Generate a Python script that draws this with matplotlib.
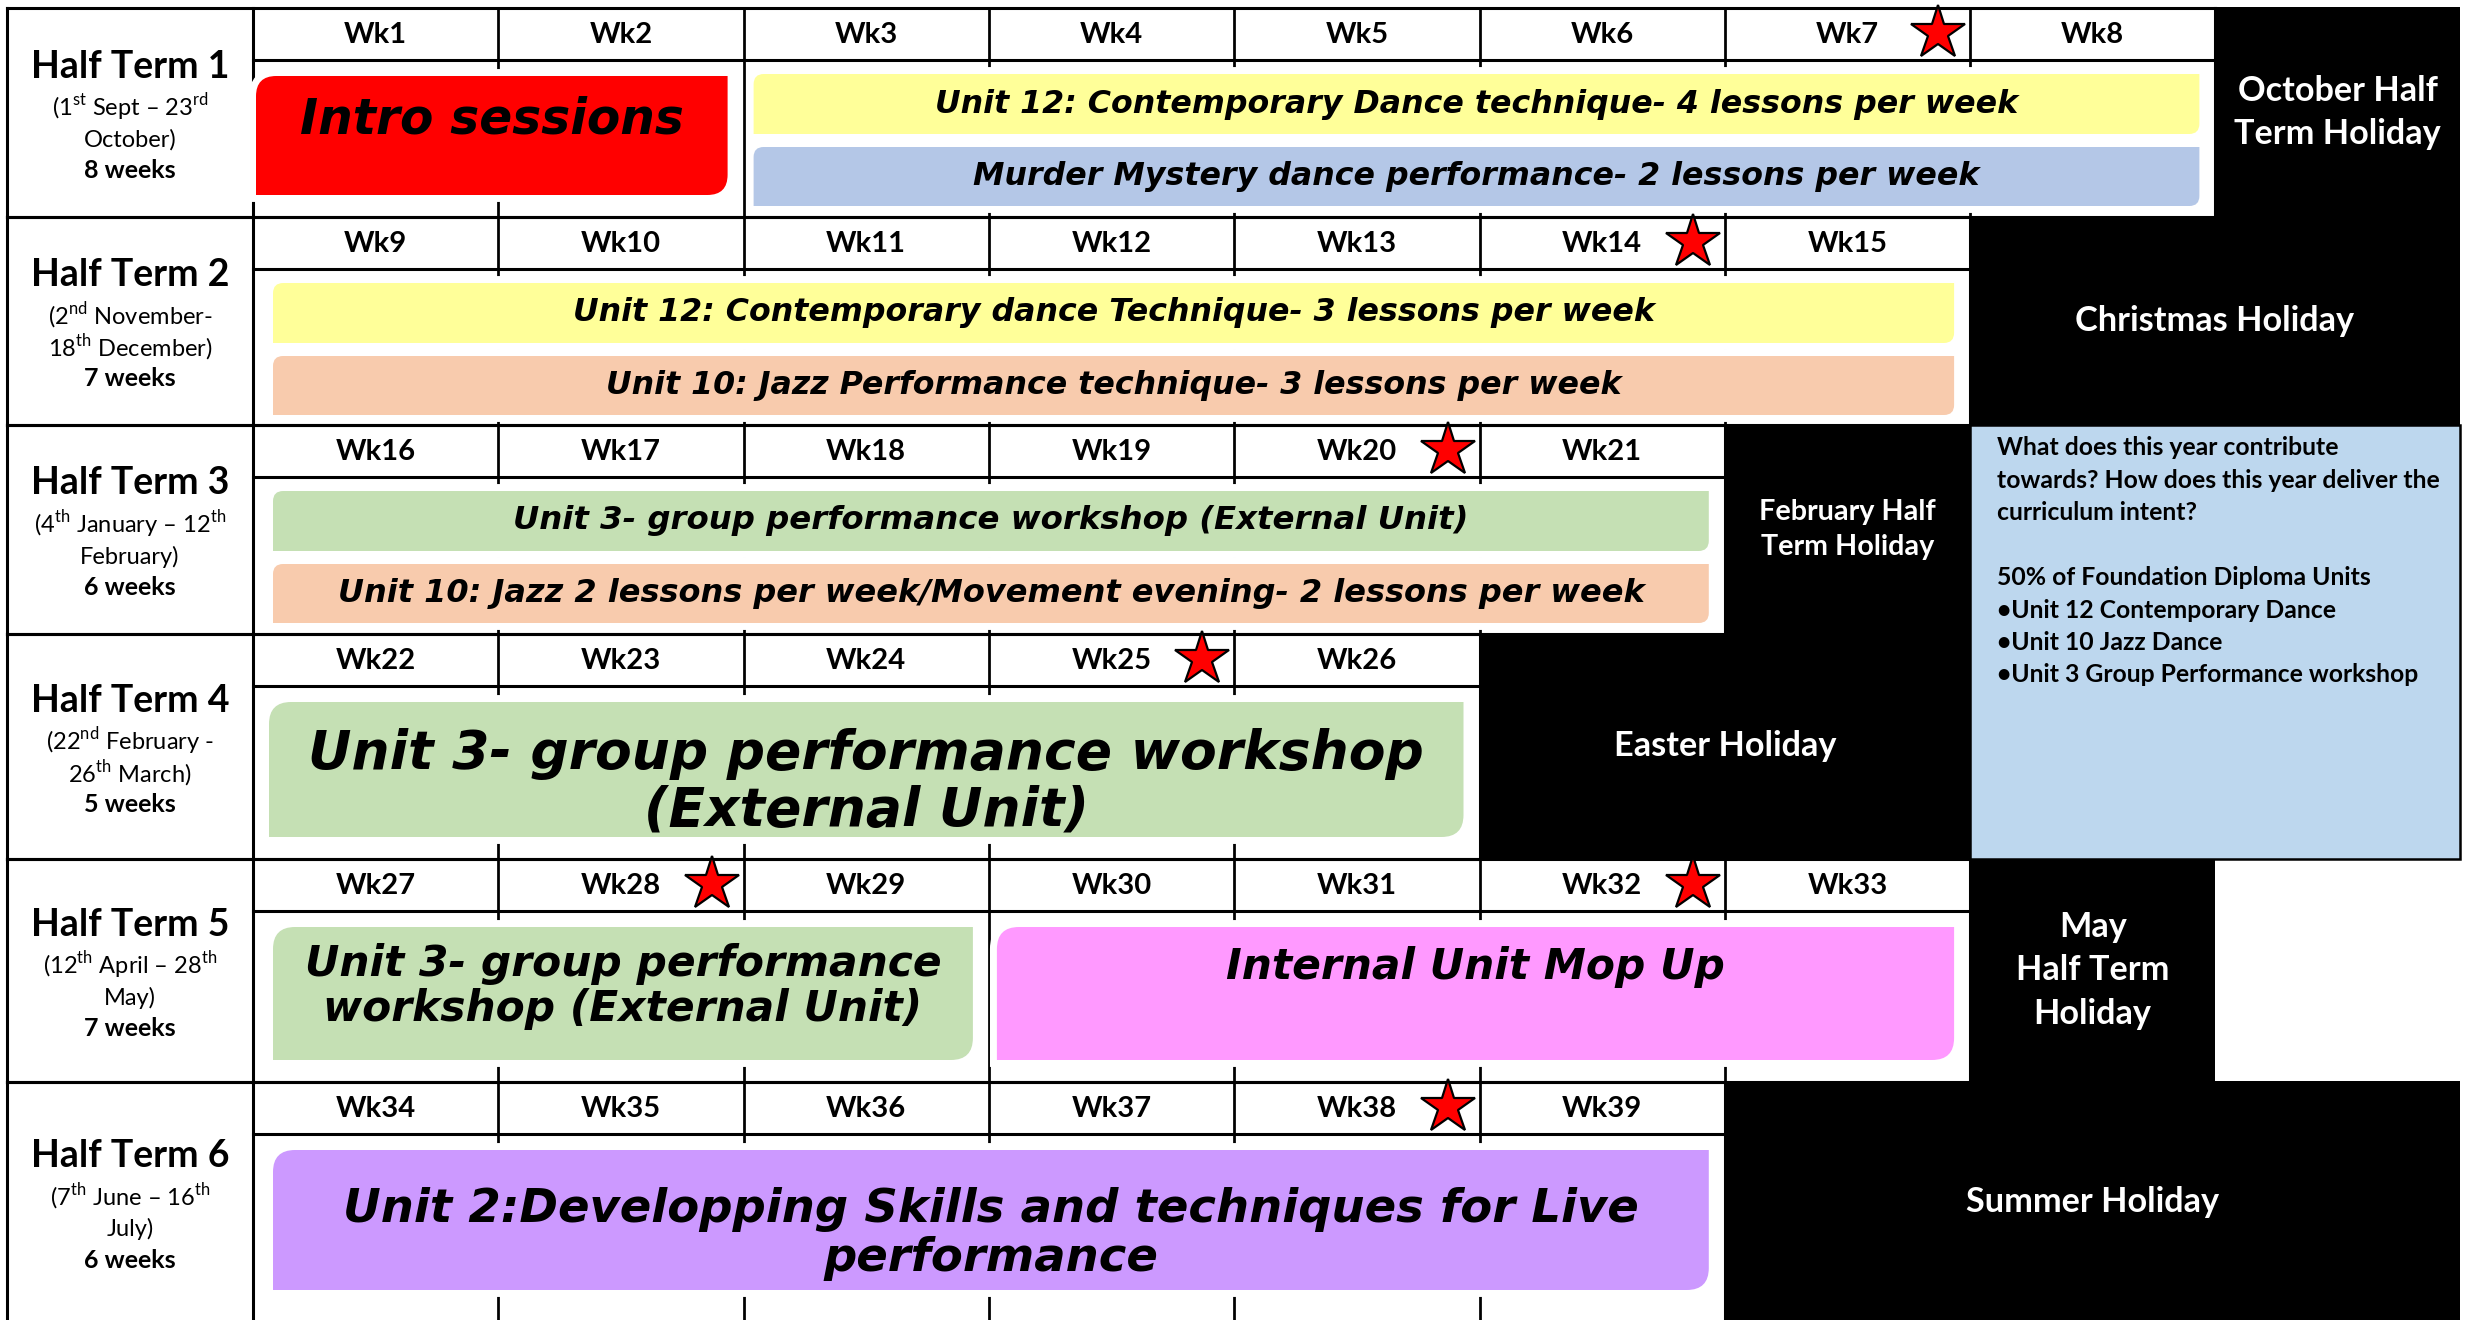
import matplotlib
matplotlib.use("Agg")
import matplotlib.pyplot as plt
from matplotlib.patches import Rectangle, PathPatch
from matplotlib.path import Path

plt.rcParams['font.family'] = ['Lato', 'DejaVu Sans']
plt.rcParams['mathtext.fontset'] = 'custom'
plt.rcParams['mathtext.rm'] = 'Lato'

# ---- data ----
terms = ["Half Term 1", "Half Term 2", "Half Term 3",
         "Half Term 4", "Half Term 5", "Half Term 6"]
term_dates = [
    [r"(1$^{\mathrm{st}}$ Sept – 23$^{\mathrm{rd}}$", "October)"],
    [r"(2$^{\mathrm{nd}}$ November-", r"18$^{\mathrm{th}}$ December)"],
    [r"(4$^{\mathrm{th}}$ January – 12$^{\mathrm{th}}$", "February)"],
    [r"(22$^{\mathrm{nd}}$ February -", r"26$^{\mathrm{th}}$ March)"],
    [r"(12$^{\mathrm{th}}$ April – 28$^{\mathrm{th}}$", "May)"],
    [r"(7$^{\mathrm{th}}$ June – 16$^{\mathrm{th}}$", "July)"],
]
weeks_in_term = [8, 7, 6, 5, 7, 6]
star_weeks = [7, 14, 20, 25, 28, 32, 38]

holidays = ["October Half\nTerm Holiday", "Christmas Holiday",
            "February Half\nTerm Holiday", "Easter Holiday",
            "May\nHalf Term\nHoliday", "Summer Holiday"]
holiday_weeks = [1, 2, 1, 2, 1, 3]

unit_labels = [
    "Intro sessions",
    "Unit 12: Contemporary Dance technique- 4 lessons per week",
    "Murder Mystery dance performance- 2 lessons per week",
    "Unit 12: Contemporary dance Technique- 3 lessons per week",
    "Unit 10: Jazz Performance technique- 3 lessons per week",
    "Unit 3- group performance workshop (External Unit)",
    "Unit 10: Jazz 2 lessons per week/Movement evening- 2 lessons per week",
    "Unit 3- group performance workshop\n(External Unit)",
    "Unit 3- group performance\nworkshop (External Unit)",
    "Internal Unit Mop Up\n",
    "Unit 2:Developping Skills and techniques for Live\nperformance",
]
unit_term = [0, 0, 0, 1, 1, 2, 2, 3, 4, 4, 5]
unit_first_week = [1, 3, 3, 9, 9, 16, 16, 22, 27, 30, 34]
unit_last_week = [2, 8, 8, 15, 15, 21, 21, 26, 29, 33, 39]

info_lines = [
    "What does this year contribute",
    "towards? How does this year deliver the",
    "curriculum intent?",
    "",
    "50% of Foundation Diploma Units",
    "•Unit 12 Contemporary Dance",
    "•Unit 10 Jazz Dance",
    "•Unit 3 Group Performance workshop",
]

# ---- styles ----
unit_colors = ["#FF0000", "#FFFF99", "#B4C7E7", "#FFFF99", "#F8CBAD",
               "#C5E0B4", "#F8CBAD", "#C5E0B4", "#C5E0B4", "#FF99FF", "#CC99FF"]
unit_lane = ["full", 0, 1, 0, 1, 0, 1, "full", "full", "full", "full"]
unit_fsize = [35, 22.8, 22.8, 22.8, 22.8, 23.3, 23, 38.5, 30.5, 30.5, 33.5]
unit_dy = [-16, 0, 0, 0, 0, 0, 0, 13, -7, -4, 14]
unit_pad = [3, 10, 10, 20, 20, 20, 20, 16, 20, 8, 20]

# ---- layout (pixels) ----
W, H = 2466, 1320
X0 = 7
LABEL_R = 253
COLW = 245.3
HEAD = 52
row_h = [209, 208, 209, 225, 223, 240]
row_top = [8]
for h in row_h[:-1]:
    row_top.append(row_top[-1] + h)
row_bot = [t + h for t, h in zip(row_top, row_h)]
LW = 2.2


def col_x(i):
    return LABEL_R + i * COLW


def diag_box(x0, y0, x1, y1, r):
    # rectangle with rounded top-left and bottom-right corners
    verts = [(x0, y0 + r), (x0, y0), (x0 + r, y0), (x1, y0), (x1, y1 - r),
             (x1, y1), (x1 - r, y1), (x0, y1), (x0, y0 + r)]
    codes = [Path.MOVETO, Path.CURVE3, Path.CURVE3, Path.LINETO, Path.LINETO,
             Path.CURVE3, Path.CURVE3, Path.LINETO, Path.CLOSEPOLY]
    return Path(verts, codes)


fig = plt.figure(figsize=(W / 100, H / 100), dpi=100)
ax = fig.add_axes([0, 0, 1, 1])
ax.set_xlim(0, W)
ax.set_ylim(H, 0)
ax.axis("off")

week_start = 1
for r, name in enumerate(terms):
    n = weeks_in_term[r]
    top, bot = row_top[r], row_bot[r]
    mid = (top + bot) / 2
    # grid
    ax.plot([X0, col_x(n)], [top, top], color="black", lw=LW, zorder=1)
    ax.plot([X0, col_x(n)], [bot, bot], color="black", lw=LW, zorder=1)
    ax.plot([LABEL_R, col_x(n)], [top + HEAD, top + HEAD], color="black", lw=LW, zorder=1)
    for i in [0, n]:
        ax.plot([col_x(i), col_x(i)], [top, bot], color="black", lw=LW, zorder=1)
    ax.plot([X0, X0], [top, bot], color="black", lw=LW, zorder=1)
    for i in range(1, n):
        ax.plot([col_x(i), col_x(i)], [top, bot], color="black", lw=LW * 0.9, zorder=1)

    # label column
    ax.text(130, mid - 46, name, ha="center", va="center", fontsize=27, fontweight="bold")
    ax.text(130, mid - 5, term_dates[r][0], ha="center", va="center", fontsize=17)
    ax.text(130, mid + 27, term_dates[r][1], ha="center", va="center", fontsize=17)
    ax.text(130, mid + 58, f"{n} weeks", ha="center", va="center", fontsize=18, fontweight="bold")

    # week headers
    for i in range(n):
        wk = week_start + i
        ax.text(col_x(i) + COLW / 2, top + HEAD / 2 + 1, f"Wk{wk}", ha="center",
                va="center", fontsize=21, fontweight="bold", zorder=6)
        if wk in star_weeks:
            ax.plot(col_x(i + 1) - 32, top + HEAD / 2 - 1, marker="*", ms=41,
                    mfc="#FF0000", mec="black", mew=1.6, ls="none", zorder=7)

    # holiday block
    hx0, hx1 = col_x(n), min(col_x(n + holiday_weeks[r]), W - 6)
    ax.add_patch(Rectangle((hx0, top - 1), hx1 - hx0, bot - top + 2, fc="black",
                           ec="none", zorder=4))
    hfs = 20.7 if r == 2 else 24.7
    ax.text((hx0 + hx1) / 2, mid, holidays[r], ha="center", va="center", color="white",
            fontsize=hfs, fontweight="bold", linespacing=1.45, zorder=6)
    week_start += n

# info box
ix0, ix1 = col_x(7), W - 6
ax.add_patch(Rectangle((ix0, row_top[2]), ix1 - ix0, row_bot[3] - row_top[2],
                       fc="#BDD7EE", ec="black", lw=1.8, zorder=5))
ax.text(ix0 + 27, row_top[2] + 11, "\n".join(info_lines), ha="left", va="top",
        fontsize=17.8, fontweight="bold", linespacing=1.5, zorder=6)

# unit bars
week_offset = [1]
for n in weeks_in_term[:-1]:
    week_offset.append(week_offset[-1] + n)

for k, label in enumerate(unit_labels):
    r = unit_term[k]
    c0 = unit_first_week[k] - week_offset[r]
    c1 = unit_last_week[k] - week_offset[r] + 1
    x0, x1 = col_x(c0) + unit_pad[k], col_x(c1) - 16
    ctop = row_top[r] + HEAD
    lane = unit_lane[k]
    if lane == "full":
        y0 = ctop + 16
        y1 = min(row_bot[r] - 22, y0 + 140)
    elif lane == 0:
        y0, y1 = ctop + 14, ctop + 74
    else:
        y0, y1 = ctop + 87, ctop + 146
    rad = min(0.17 * (y1 - y0), 22)
    path = diag_box(x0, y0, x1, y1, rad)
    ax.add_patch(PathPatch(path, fc="white", ec="white", lw=10, zorder=2))
    ax.add_patch(PathPatch(path, fc=unit_colors[k], ec="none", zorder=3))
    ax.text((x0 + x1) / 2, (y0 + y1) / 2 + unit_dy[k], label, ha="center", va="center",
            family="DejaVu Sans", fontweight="bold", fontstyle="italic",
            fontsize=unit_fsize[k], linespacing=1.12, zorder=6)

fig.savefig("out.png", dpi=100, facecolor="white")
